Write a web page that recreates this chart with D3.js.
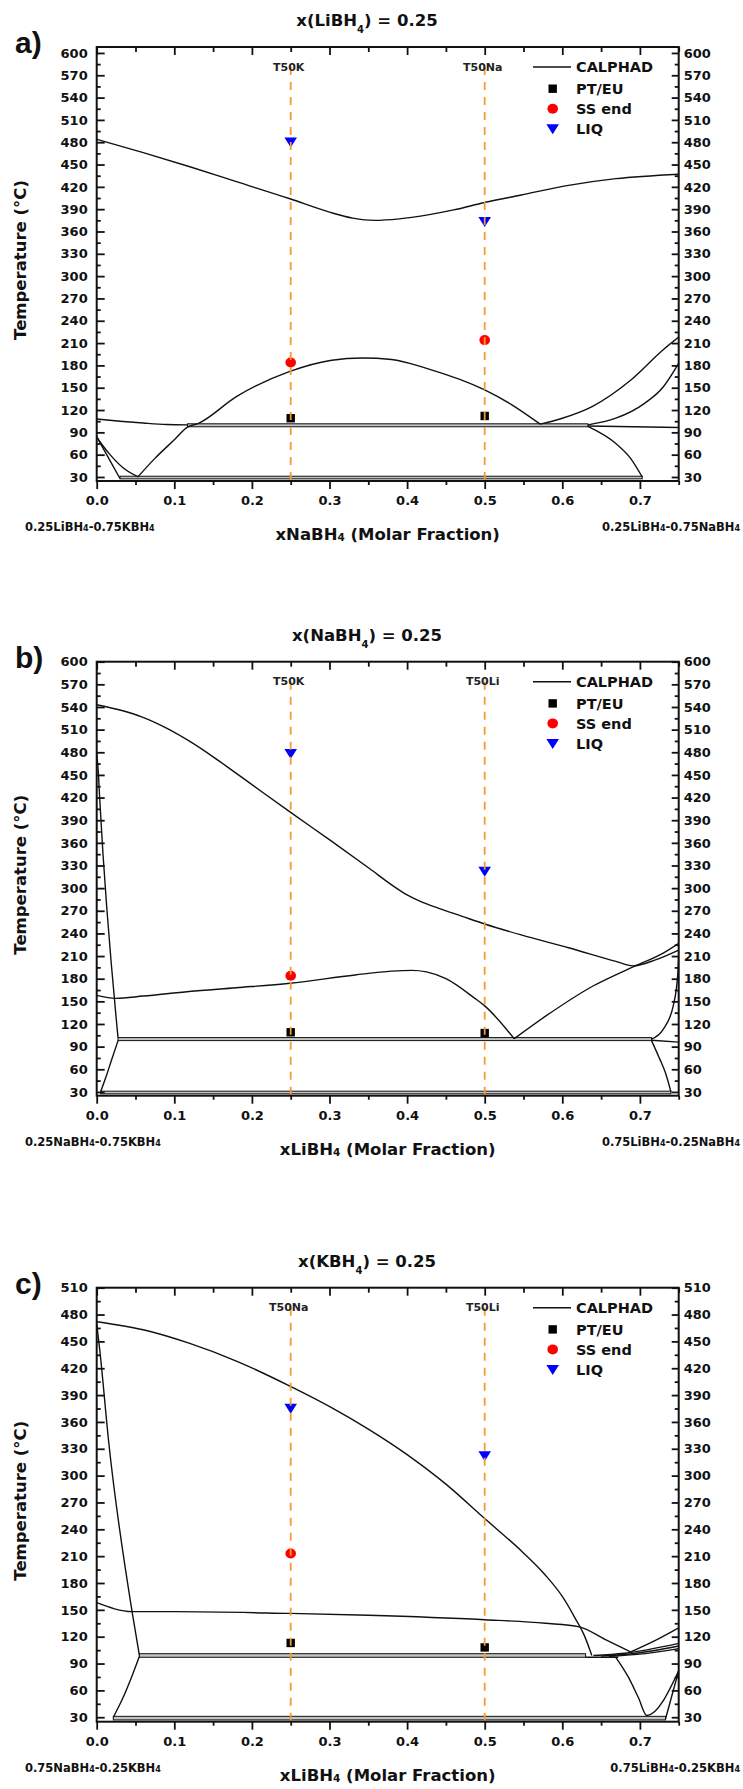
<!DOCTYPE html>
<html><head><meta charset="utf-8">
<script src="https://cdn.jsdelivr.net/npm/d3@7"></script>
<style>body{margin:0;background:#fff}svg{display:block}</style>
</head><body><svg id="chart" width="743" height="1789"></svg>
<script>
// ---------- ticks ----------
const xTickValues = [0,0.1,0.2,0.3,0.4,0.5,0.6,0.7];
const xTickLabels = ["0.0","0.1","0.2","0.3","0.4","0.5","0.6","0.7"];
const xMinorValues = [0.05,0.15,0.25,0.35,0.45,0.55,0.65,0.75];
const yTicksAB = [30,60,90,120,150,180,210,240,270,300,330,360,390,420,450,480,510,540,570,600];
const yMinorAB = [45,75,105,135,165,195,225,255,285,315,345,375,405,435,465,495,525,555,585];
const yTicksC = [30,60,90,120,150,180,210,240,270,300,330,360,390,420,450,480,510];
const yMinorC = [45,75,105,135,165,195,225,255,285,315,345,375,405,435,465,495];

// ---------- panel a : x(LiBH4)=0.25 ----------
const aLiquidus = [[0,484],[0.06,466],[0.12,447],[0.18,427],[0.249,404],[0.30,386],[0.33,378],[0.358,375],[0.39,377],[0.425,382],[0.46,389],[0.5,399],[0.547,409],[0.608,422],[0.669,431],[0.75,437]];
const aSolvus = [[0.053,30],[0.075,55],[0.099,79],[0.117,97],[0.131,102],[0.18,138],[0.249,172],[0.303,187],[0.342,190],[0.38,188],[0.425,176],[0.5,147],[0.535,127],[0.5715,101]];
const aLeftOuter = [[0,84],[0.008,72],[0.0172,60],[0.0344,42],[0.0535,30]];
const aLeftInner = [[0,84],[0.015,56],[0.030,28]];
const aUpperLeft = [[0,108],[0.03,105],[0.06,102.5],[0.09,100.5],[0.117,100]];
const aRightFlat = [[0.633,98.5],[0.75,96.5]];
const aRightOuter = [[0.5715,101],[0.60,109],[0.639,125],[0.688,160],[0.730,201],[0.75,218]];
const aRightInner = [[0.633,100],[0.669,109],[0.706,129],[0.730,151],[0.746,176],[0.75,183]];
const aRightLower = [[0.633,98],[0.669,75],[0.688,55],[0.703,30]];
const aBandHi = [0.117,0.633,97.5,101.5];
const aBandLo = [0.030,0.703,27.5,31];
const aPtEu = [[0.25,109],[0.5,112]];
const aSsEnd = [[0.25,184],[0.5,214]];
const aLiq = [[0.25,480],[0.5,373]];
const aVLabels = ["T50K","T50Na"];

// ---------- panel b : x(NaBH4)=0.25 ----------
const bLiquidus = [[0,543],[0.03,536],[0.058,527],[0.09,512],[0.119,495],[0.15,474],[0.18,452],[0.215,426],[0.249,401],[0.303,362],[0.3515,326],[0.382,303],[0.40,291],[0.42,281],[0.44,273.5],[0.47,263],[0.5,252.5],[0.547,238],[0.608,221],[0.669,203],[0.691,197],[0.72,205],[0.75,218]];
const bLiqRight = [[0.538,100.5],[0.578,130],[0.639,170],[0.694,197],[0.730,214],[0.75,227]];
const bSolvus = [[0,158],[0.0245,154],[0.06,157],[0.119,163],[0.18,168],[0.249,174],[0.333,185],[0.38,190],[0.406,191],[0.425,189],[0.45,180],[0.486,155],[0.5,144],[0.538,100.5]];
const bSteep = [[0,478],[0.002,455],[0.004,416],[0.0275,102]];
const bSteepLow = [[0.005,30],[0.012,50],[0.02,75],[0.0275,98]];
const bRightFlat = [[0.715,98.5],[0.75,96]];
const bRightSteep = [[0.715,100],[0.730,113],[0.743,144],[0.749,188],[0.75,215]];
const bRightLow = [[0.715,98],[0.725,75],[0.733,55],[0.74,30]];
const bBandHi = [0.0275,0.715,98,102];
const bBandLo = [0.005,0.74,27.5,31];
const bPtEu = [[0.25,109],[0.5,108]];
const bSsEnd = [[0.25,184]];
const bLiq = [[0.25,478],[0.5,322]];
const bVLabels = ["T50K","T50Li"];

// ---------- panel c : x(KBH4)=0.25 ----------
const cLiquidus = [[0,472],[0.06,463],[0.119,448],[0.18,428],[0.249,400],[0.3026,376],[0.35,352],[0.4,323.5],[0.45,290.5],[0.5,252],[0.547,216],[0.578,189],[0.6,165],[0.617,140],[0.628,122],[0.636,104],[0.638,99]];
const cSolvus = [[0,158],[0.046,148],[0.1,148],[0.249,146],[0.35,144],[0.5,139],[0.578,135],[0.622,131],[0.655,117],[0.688,103]];
const cRightUp = [[0.688,103],[0.72,116],[0.75,130]];
const cFan1 = [[0.64,99],[0.68,101.5],[0.75,112.6]];
const cFan2 = [[0.65,98.5],[0.69,101],[0.75,109.6]];
const cFan3 = [[0.66,98],[0.70,100.5],[0.75,106.7]];
const cSteep = [[0,470],[0.004,440],[0.0153,339],[0.0458,147],[0.055,99]];
const cSteepLow = [[0.0214,30],[0.034,52],[0.045,75],[0.055,98]];
const cBandExt = [[0.63,97],[0.672,97]];
const cRightLow = [[0.669,97],[0.685,75],[0.698,52],[0.709,32],[0.75,82]];
const cRightLow2 = [[0.733,28],[0.75,82]];
const cBandHi = [0.055,0.63,97,101];
const cBandLo = [0.0214,0.733,27,31];
const cPtEu = [[0.25,113],[0.5,108]];
const cSsEnd = [[0.25,213]];
const cLiq = [[0.25,375],[0.5,322]];
const cVLabels = ["T50Na","T50Li"];

const panels = [
  {top:47, yDomain:[24.6,608], yTicks:yTicksAB, yMinor:yMinorAB, letter:"a)", titleComp:"LiBH",
   curves:[aLiquidus,aSolvus,aLeftOuter,aLeftInner,aUpperLeft,aRightFlat,aRightOuter,aRightInner,aRightLower],
   bands:[aBandHi,aBandLo], ptEu:aPtEu, ssEnd:aSsEnd, liq:aLiq, vLabels:aVLabels,
   leftNote:["0.25LiBH","-0.75KBH"], rightNote:["0.25LiBH","-0.75NaBH"], xTitle:"xNaBH"},
  {top:661.7, yDomain:[25,600], yTicks:yTicksAB, yMinor:yMinorAB, letter:"b)", titleComp:"NaBH",
   curves:[bLiquidus,bLiqRight,bSolvus,bSteep,bSteepLow,bRightFlat,bRightSteep,bRightLow],
   bands:[bBandHi,bBandLo], ptEu:bPtEu, ssEnd:bSsEnd, liq:bLiq, vLabels:bVLabels,
   leftNote:["0.25NaBH","-0.75KBH"], rightNote:["0.75LiBH","-0.25NaBH"], xTitle:"xLiBH"},
  {top:1287.7, yDomain:[25,510], yTicks:yTicksC, yMinor:yMinorC, letter:"c)", titleComp:"KBH",
   curves:[cLiquidus,cSolvus,cRightUp,cFan1,cFan2,cFan3,cSteep,cSteepLow,cBandExt,cRightLow,cRightLow2],
   bands:[cBandHi,cBandLo], ptEu:cPtEu, ssEnd:cSsEnd, liq:cLiq, vLabels:cVLabels,
   leftNote:["0.75NaBH","-0.25KBH"], rightNote:["0.75LiBH","-0.25KBH"], xTitle:"xLiBH"}
];

const FONT = '"DejaVu Sans", sans-serif';
const svg = d3.select("#chart");
const X0 = 96.7, X1 = 678.7, H = 434;
const orange = "#f99a2c";
const TRI = "M-6.3,-4.8L6.3,-4.8L0,5.2Z";

panels.forEach((p, i) => {
  const top = p.top, bottom = top + H;
  const x = d3.scaleLinear([0, 0.75], [X0, X1]);
  const y = d3.scaleLinear(p.yDomain, [bottom, top]);
  const g = svg.append("g");
  const clipId = "clip" + i;
  g.append("clipPath").attr("id", clipId).append("rect")
    .attr("x", X0).attr("y", top).attr("width", X1 - X0).attr("height", H);
  const plot = g.append("g").attr("clip-path", `url(#${clipId})`);

  p.bands.forEach(b => {
    plot.append("rect")
      .attr("x", x(b[0])).attr("width", x(b[1]) - x(b[0]))
      .attr("y", y(b[3])).attr("height", y(b[2]) - y(b[3]))
      .attr("fill", "#c4c4c4").attr("stroke", "#111").attr("stroke-width", 1);
  });

  const line = d3.line().x(d => x(d[0])).y(d => y(d[1])).curve(d3.curveMonotoneX);
  p.curves.forEach(c => {
    plot.append("path").attr("d", line(c)).attr("fill", "none")
      .attr("stroke", "#111").attr("stroke-width", 1.4).attr("stroke-linejoin", "round");
  });

  p.ptEu.forEach(d => {
    plot.append("rect").attr("x", x(d[0]) - 4.2).attr("y", y(d[1]) - 4.2)
      .attr("width", 8.4).attr("height", 8.4).attr("fill", "#000");
  });
  p.ssEnd.forEach(d => {
    plot.append("ellipse").attr("cx", x(d[0])).attr("cy", y(d[1]))
      .attr("rx", 5.3).attr("ry", 5).attr("fill", "#ff0000");
  });
  p.liq.forEach(d => {
    plot.append("path").attr("transform", `translate(${x(d[0])},${y(d[1])})`)
      .attr("d", TRI).attr("fill", "#0000ff");
  });

  [0.25, 0.5].forEach((v, k) => {
    g.append("line").attr("x1", x(v)).attr("x2", x(v))
      .attr("y1", top + 20).attr("y2", bottom)
      .attr("stroke", orange).attr("stroke-width", 1.8).attr("stroke-dasharray", "8,7");
    g.append("text").attr("x", x(v) - 2).attr("y", top + 23.5)
      .attr("text-anchor", "middle").attr("font-family", FONT).attr("font-weight", "bold")
      .attr("font-size", 11).attr("fill", "#222").text(p.vLabels[k]);
  });

  g.append("rect").attr("x", X0).attr("y", top).attr("width", X1 - X0).attr("height", H)
    .attr("fill", "none").attr("stroke", "#111").attr("stroke-width", 2);

  const styleAxis = sel => {
    sel.select(".domain").remove();
    sel.selectAll("line").attr("stroke", "#111").attr("stroke-width", 1.8);
    sel.selectAll("text").attr("font-family", FONT).attr("font-weight", "bold")
      .attr("font-size", 13).attr("fill", "#111");
  };
  g.append("g").attr("transform", `translate(${X0},0)`)
    .call(d3.axisLeft(y).tickValues(p.yTicks).tickSize(-8).tickPadding(9).tickFormat(d3.format("d")))
    .call(styleAxis);
  g.append("g").attr("transform", `translate(${X0},0)`)
    .call(d3.axisLeft(y).tickValues(p.yMinor).tickSize(-4).tickFormat(""))
    .call(styleAxis);
  g.append("g").attr("transform", `translate(${X1},0)`)
    .call(d3.axisRight(y).tickValues(p.yTicks).tickSize(-7).tickPadding(5).tickFormat(d3.format("d")))
    .call(styleAxis);
  g.append("g").attr("transform", `translate(${X1},0)`)
    .call(d3.axisRight(y).tickValues(p.yMinor).tickSize(-4).tickFormat(""))
    .call(styleAxis);
  g.append("g").attr("transform", `translate(0,${bottom})`)
    .call(d3.axisBottom(x).tickValues(xTickValues).tickSize(8).tickPadding(7)
      .tickFormat((d, j) => xTickLabels[j]))
    .call(styleAxis);
  g.append("g").attr("transform", `translate(0,${bottom})`)
    .call(d3.axisBottom(x).tickValues(xMinorValues).tickSize(4).tickFormat(""))
    .call(styleAxis);
  g.append("g").attr("transform", `translate(0,${top})`)
    .call(d3.axisTop(x).tickValues(xTickValues).tickSize(-8).tickFormat(""))
    .call(styleAxis);
  g.append("g").attr("transform", `translate(0,${top})`)
    .call(d3.axisTop(x).tickValues(xMinorValues).tickSize(-5).tickFormat(""))
    .call(styleAxis);

  const t = g.append("text").attr("x", 367).attr("y", top - 21).attr("text-anchor", "middle")
    .attr("font-family", FONT).attr("font-weight", "bold").attr("font-size", 16.5).attr("fill", "#111");
  t.append("tspan").text("x(" + p.titleComp);
  t.append("tspan").attr("font-size", 10).attr("dy", 7).text("4");
  t.append("tspan").attr("dy", -7).text(") = 0.25");

  g.append("text").attr("x", 15).attr("y", top + 6).attr("font-family", '"Liberation Sans", Arial, sans-serif')
    .attr("font-weight", "bold").attr("font-size", 30).attr("fill", "#111").text(p.letter);

  g.append("text").attr("transform", `translate(26,${top + H / 2 - 4}) rotate(-90)`)
    .attr("text-anchor", "middle").attr("font-family", FONT).attr("font-weight", "bold")
    .attr("font-size", 16.5).attr("fill", "#111").text("Temperature (°C)");

  const xt = g.append("text").attr("x", (X0 + X1) / 2).attr("y", bottom + 59)
    .attr("text-anchor", "middle").attr("font-family", FONT).attr("font-weight", "bold")
    .attr("font-size", 16.5).attr("fill", "#111");
  xt.append("tspan").text(p.xTitle);
  xt.append("tspan").attr("font-size", 10.5).attr("dy", 1).text("4");
  xt.append("tspan").attr("dy", -1).text(" (Molar Fraction)");

  const note = (parts, xPos, anchor) => {
    const n = g.append("text").attr("x", xPos).attr("y", bottom + 50)
      .attr("text-anchor", anchor).attr("font-family", FONT).attr("font-weight", "bold")
      .attr("font-size", 11.5).attr("fill", "#111");
    n.append("tspan").text(parts[0]);
    n.append("tspan").attr("font-size", 8).text("4");
    n.append("tspan").text(parts[1]);
    n.append("tspan").attr("font-size", 8).text("4");
  };
  note(p.leftNote, 25, "start");
  note(p.rightNote, 740, "end");

  const ly = top + 20;
  g.append("line").attr("x1", 533).attr("x2", 571).attr("y1", ly).attr("y2", ly)
    .attr("stroke", "#111").attr("stroke-width", 1.6);
  const legendItems = ["CALPHAD", "PT/EU", "SS end", "LIQ"];
  const legendDy = [0, 21.7, 41.7, 62];
  legendItems.forEach((s, k) => {
    g.append("text").attr("x", 576).attr("y", ly + legendDy[k] + 5.3)
      .attr("font-family", FONT).attr("font-weight", "bold").attr("font-size", 14.5)
      .attr("fill", "#111").text(s);
  });
  g.append("rect").attr("x", 552.7 - 4.2).attr("y", ly + legendDy[1] - 4.2)
    .attr("width", 8.4).attr("height", 8.4).attr("fill", "#000");
  g.append("ellipse").attr("cx", 552.7).attr("cy", ly + legendDy[2]).attr("rx", 5.3).attr("ry", 5)
    .attr("fill", "#ff0000");
  g.append("path").attr("transform", `translate(552.7,${ly + legendDy[3]})`)
    .attr("d", TRI).attr("fill", "#0000ff");
});
</script></body></html>
